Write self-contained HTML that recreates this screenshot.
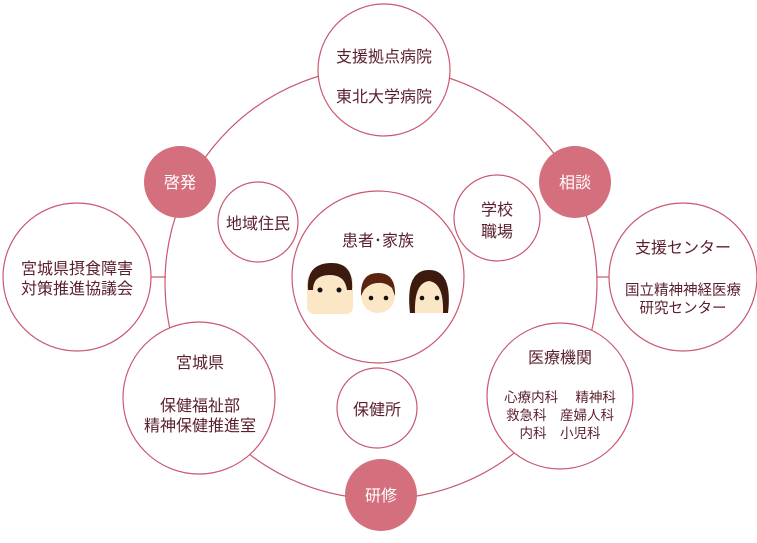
<!DOCTYPE html>
<html><head><meta charset="utf-8"><style>
body{margin:0;background:#fff;}
svg text{font-family:"Liberation Sans","Noto Sans CJK JP",sans-serif;fill:#5a1f2c;text-anchor:middle;}
</style></head><body>
<svg width="757" height="538" viewBox="0 0 757 538" xmlns="http://www.w3.org/2000/svg">
<g fill="none" stroke="#c9586f" stroke-width="1.2">
<circle cx="381" cy="283" r="216"/>
<line x1="151" y1="277" x2="166" y2="277"/>
<line x1="597" y1="277" x2="609" y2="277"/>
</g>
<g fill="#fff" stroke="#c9586f" stroke-width="1.2">
<circle cx="384" cy="70" r="66"/>
<circle cx="77" cy="277" r="74"/>
<circle cx="683" cy="277" r="74"/>
<circle cx="560" cy="396" r="73"/>
<circle cx="199" cy="398" r="76"/>
<circle cx="378" cy="277" r="86"/>
<circle cx="377" cy="408" r="40"/>
<circle cx="258" cy="222" r="40"/>
<circle cx="497" cy="218" r="43"/>
</g>
<g fill="#d46f7e">
<circle cx="180" cy="182" r="36"/>
<circle cx="575" cy="182" r="36"/>
<circle cx="381" cy="495" r="36"/>
</g>
<g font-size="16">
<text x="180" y="188" style="fill:#fff">啓発</text>
<text x="575" y="188" style="fill:#fff">相談</text>
<text x="381" y="501" style="fill:#fff">研修</text>
<text x="384" y="62">支援拠点病院</text>
<text x="384" y="102">東北大学病院</text>
<text x="77" y="274">宮城県摂食障害</text>
<text x="77" y="294">対策推進協議会</text>
<text x="683" y="253">支援センター</text>
<text x="683" y="295" font-size="14.5">国立精神神経医療</text>
<text x="683" y="313" font-size="14.5">研究センター</text>
<text x="560" y="363">医療機関</text>
<text x="200" y="368">宮城県</text>
<text x="200" y="411">保健福祉部</text>
<text x="200" y="431">精神保健推進室</text>
<text x="377" y="415">保健所</text>
<text x="258" y="229">地域住民</text>
<text x="497" y="215">学校</text>
<text x="497" y="237">職場</text>
<text x="378" y="246">患者･家族</text>
</g>
<g font-size="13.5">
<text x="560" y="402">心療内科　 精神科</text>
<text x="560" y="420">救急科　産婦人科</text>
<text x="560" y="438">内科　小児科</text>
</g>
<g>
<rect x="307" y="274" width="46" height="40" rx="7" fill="#fbe6c6"/>
<path d="M308 290 Q306 264 330 263 Q354 262 352 290 L347 290 Q345 275 330 275 Q313 275 313 290Z" fill="#3d1a0e"/>
<circle cx="320" cy="290" r="2.5" fill="#111"/><circle cx="339" cy="290" r="2.5" fill="#111"/>
<ellipse cx="378" cy="296" rx="17" ry="17" fill="#fbe6c6"/>
<path d="M361 296 Q360 273 378 273 Q396 273 395 296 L392 288 Q385 282 378 283 Q370 283 364 290Z" fill="#5a2410"/>
<circle cx="371" cy="298" r="2.3" fill="#111"/><circle cx="386" cy="298" r="2.3" fill="#111"/>
<path d="M410 313 Q405 270 429 270 Q453 270 448 313Z" fill="#3d1a0e"/>
<path d="M415 313 Q414 283 429 281 Q444 283 443 313Z" fill="#fbe6c6"/>
<circle cx="422" cy="298" r="2.3" fill="#111"/><circle cx="437" cy="298" r="2.3" fill="#111"/>
</g>
</svg>
</body></html>
